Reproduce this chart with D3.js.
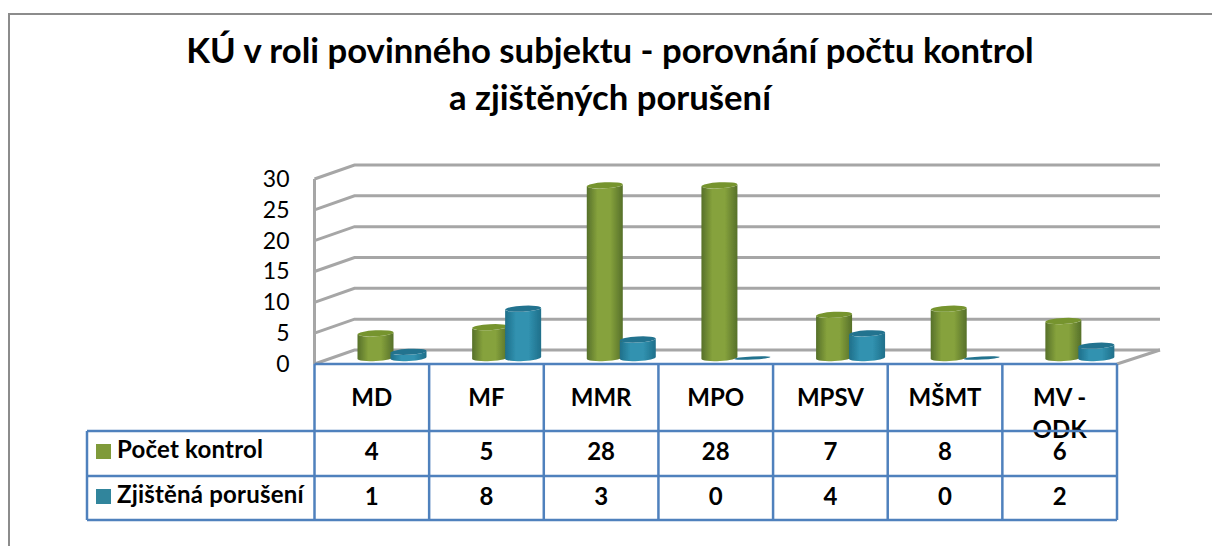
<!DOCTYPE html>
<html>
<head>
<meta charset="utf-8">
<script src="https://cdn.jsdelivr.net/npm/d3@7"></script>
<style>
    html, body { margin: 0; padding: 0; background: #fff; overflow: hidden; }
    text { font-family: Lato, "Noto Sans", sans-serif; fill: #000; }
</style>
</head>
<body>
<svg id="chart" width="1212" height="546"></svg>
<script>
/* Data */
const titleLines = ["KÚ v roli povinného subjektu - porovnání počtu kontrol", "a zjištěných porušení"];
const categories = ["MD", "MF", "MMR", "MPO", "MPSV", "MŠMT", "MV - ODK"];
const seriesNames = ["Počet kontrol", "Zjištěná porušení"];
const pocetKontrol = [4, 5, 28, 28, 7, 8, 6];
const zjistenaPoruseni = [1, 8, 3, 0, 4, 0, 2];
const yTicks = [0, 5, 10, 15, 20, 25, 30];

const seriesValues = [pocetKontrol, zjistenaPoruseni];
const seriesColors = [
    { edge: "#56702a", mid: "#86a23c", top: "#76942f", swatch: "#7f9a3a" },
    { edge: "#1f6f8a", mid: "#3192b0", top: "#24738f", swatch: "#31859c" }
];

const svg = d3.select("#chart");

/* Constants for the fake 3d layout */
const depthX = 40;
const depthY = -14;
const barShiftY = -6;
const barRadius = 18;
const gridColor = "#a6a6a6";
const tableColor = "#4f81bd";

const x = d3.scaleBand().domain(categories).range([314.5, 1117]);
const xSeries = d3.scalePoint().domain(seriesNames).range([61, 94]);
const y = d3.scaleLinear().domain([0, 30]).range([364, 179]);

/* Gradients for the cylinders */
const defs = svg.append("defs");
seriesColors.forEach((c, i) => {
    const g = defs.append("linearGradient").attr("id", "cyl" + i);
    g.append("stop").attr("offset", "0%").attr("stop-color", c.edge);
    g.append("stop").attr("offset", "30%").attr("stop-color", c.mid);
    g.append("stop").attr("offset", "65%").attr("stop-color", c.mid);
    g.append("stop").attr("offset", "100%").attr("stop-color", c.edge);
});
defs.append("filter").attr("id", "soft")
    .append("feGaussianBlur").attr("stdDeviation", 0.5);

/* Frame, only left and top are visible in the crop */
svg.append("path")
    .attr("d", "M9,546V14H1212")
    .attr("fill", "none")
    .attr("stroke", "#8c8c8c")
    .attr("stroke-width", 2);

/* Title */
svg.selectAll(".title")
    .data(titleLines)
    .enter()
    .append("text")
    .attr("class", "title")
    .attr("x", 610)
    .attr("y", (d, i) => 63 + i * 47)
    .attr("text-anchor", "middle")
    .style("font-size", "34.7px")
    .style("font-weight", "700")
    .text(d => d);

/* Walls and gridlines */
const walls = svg.append("g").attr("filter", "url(#soft)");
walls.selectAll(".grid")
    .data(yTicks)
    .enter()
    .append("path")
    .attr("class", "grid")
    .attr("d", d => "M" + x.range()[0] + "," + y(d)
        + "L" + (x.range()[0] + depthX) + "," + (y(d) + depthY)
        + "H" + (x.range()[1] + depthX + 3))
    .attr("fill", "none")
    .attr("stroke", gridColor)
    .attr("stroke-width", 3);
walls.append("path")
    .attr("d", "M" + x.range()[0] + "," + y(0) + "V" + y(30)
        + "M" + x.range()[1] + "," + y(0) + "L" + (x.range()[1] + depthX + 3) + "," + (y(0) + depthY))
    .attr("fill", "none")
    .attr("stroke", gridColor)
    .attr("stroke-width", 3);

/* Y axis */
const yAxis = d3.axisLeft(y).tickValues(yTicks).tickSize(0).tickPadding(25);
svg.append("g")
    .attr("class", "yAxis")
    .attr("transform", "translate(" + x.range()[0] + ",0)")
    .call(yAxis)
    .call(g => g.select(".domain").remove())
    .call(g => g.selectAll("text")
        .style("font-size", "23px")
        .style("font-family", "Lato, sans-serif"));

/* Cylinders */
function cylinderBody(cx, top, bottom, r, ry, lift) {
    return "M" + (cx - r) + "," + (top + lift)
        + "L" + (cx - r) + "," + (bottom + lift)
        + "A" + r + "," + ry + " -3 0 0 " + (cx + r) + "," + (bottom - lift)
        + "L" + (cx + r) + "," + (top - lift)
        + "A" + r + "," + ry + " -3 0 1 " + (cx - r) + "," + (top + lift) + "Z";
}

const barGroup = svg.append("g").attr("filter", "url(#soft)");
seriesNames.forEach((name, s) => {
    const rows = categories.map((c, i) => ({ cat: c, value: seriesValues[s][i] }));
    const cx = d => x(d.cat) + xSeries(name);
    const yTop = d => y(d.value) + barShiftY;
    const yBase = y(0) + barShiftY;

    barGroup.selectAll(".bar" + s)
        .data(rows.filter(d => d.value > 0))
        .enter()
        .append("path")
        .attr("class", "bar" + s)
        .attr("d", d => cylinderBody(cx(d), yTop(d), yBase, barRadius, 3, 1))
        .attr("fill", "url(#cyl" + s + ")");

    barGroup.selectAll(".cap" + s)
        .data(rows)
        .enter()
        .append("ellipse")
        .attr("class", "cap" + s)
        .attr("cx", cx)
        .attr("cy", yTop)
        .attr("rx", barRadius)
        .attr("ry", d => d.value > 0 ? 3 : 1.6)
        .attr("transform", d => "rotate(-3 " + cx(d) + " " + yTop(d) + ")")
        .attr("fill", seriesColors[s].top);
});

/* Data table */
const tableLeft = 87;
const rowY = [364, 431, 476, 520];
const tableFont = "24px";

const headerCells = svg.selectAll(".catLabel")
    .data(categories)
    .enter()
    .append("text")
    .attr("class", "catLabel")
    .attr("text-anchor", "middle")
    .style("font-size", tableFont)
    .style("font-weight", "700");
headerCells.each(function (d) {
    // the last category wraps and runs over the row line, same as in the source
    const parts = d.indexOf(" - ") > -1 ? [d.split(" - ")[0] + " -", d.split(" - ")[1]] : [d];
    d3.select(this).selectAll("tspan")
        .data(parts)
        .enter()
        .append("tspan")
        .attr("x", x(d) + x.bandwidth() / 2)
        .attr("y", (p, i) => 406 + i * 32)
        .text(p => p);
});

seriesNames.forEach((name, s) => {
    const baseY = rowY[s + 1];
    svg.append("rect")
        .attr("x", 96)
        .attr("y", baseY + 13)
        .attr("width", 15)
        .attr("height", 15)
        .attr("fill", seriesColors[s].swatch);
    svg.append("text")
        .attr("x", 117)
        .attr("y", baseY + 27)
        .style("font-size", tableFont)
        .style("letter-spacing", "0.2px")
        .style("font-weight", "700")
        .text(name);
    svg.selectAll(".val" + s)
        .data(seriesValues[s])
        .enter()
        .append("text")
        .attr("class", "val" + s)
        .attr("x", (d, i) => x(categories[i]) + x.bandwidth() / 2)
        .attr("y", baseY + 29)
        .attr("text-anchor", "middle")
        .style("font-size", tableFont)
        .style("font-weight", "700")
        .text(d => d);
});

const tableLines = svg.append("g")
    .attr("fill", "none")
    .attr("stroke", tableColor)
    .attr("stroke-width", 2.5);
rowY.forEach((ry, i) => {
    tableLines.append("line")
        .attr("x1", i === 0 ? x.range()[0] : tableLeft)
        .attr("x2", x.range()[1])
        .attr("y1", ry)
        .attr("y2", ry);
});
tableLines.append("line")
    .attr("x1", tableLeft).attr("x2", tableLeft)
    .attr("y1", rowY[1]).attr("y2", rowY[3]);
tableLines.selectAll(".colLine")
    .data(categories.map(c => x(c)).concat([x.range()[1]]))
    .enter()
    .append("line")
    .attr("class", "colLine")
    .attr("x1", d => d)
    .attr("x2", d => d)
    .attr("y1", rowY[0])
    .attr("y2", rowY[3]);
</script>
</body>
</html>
